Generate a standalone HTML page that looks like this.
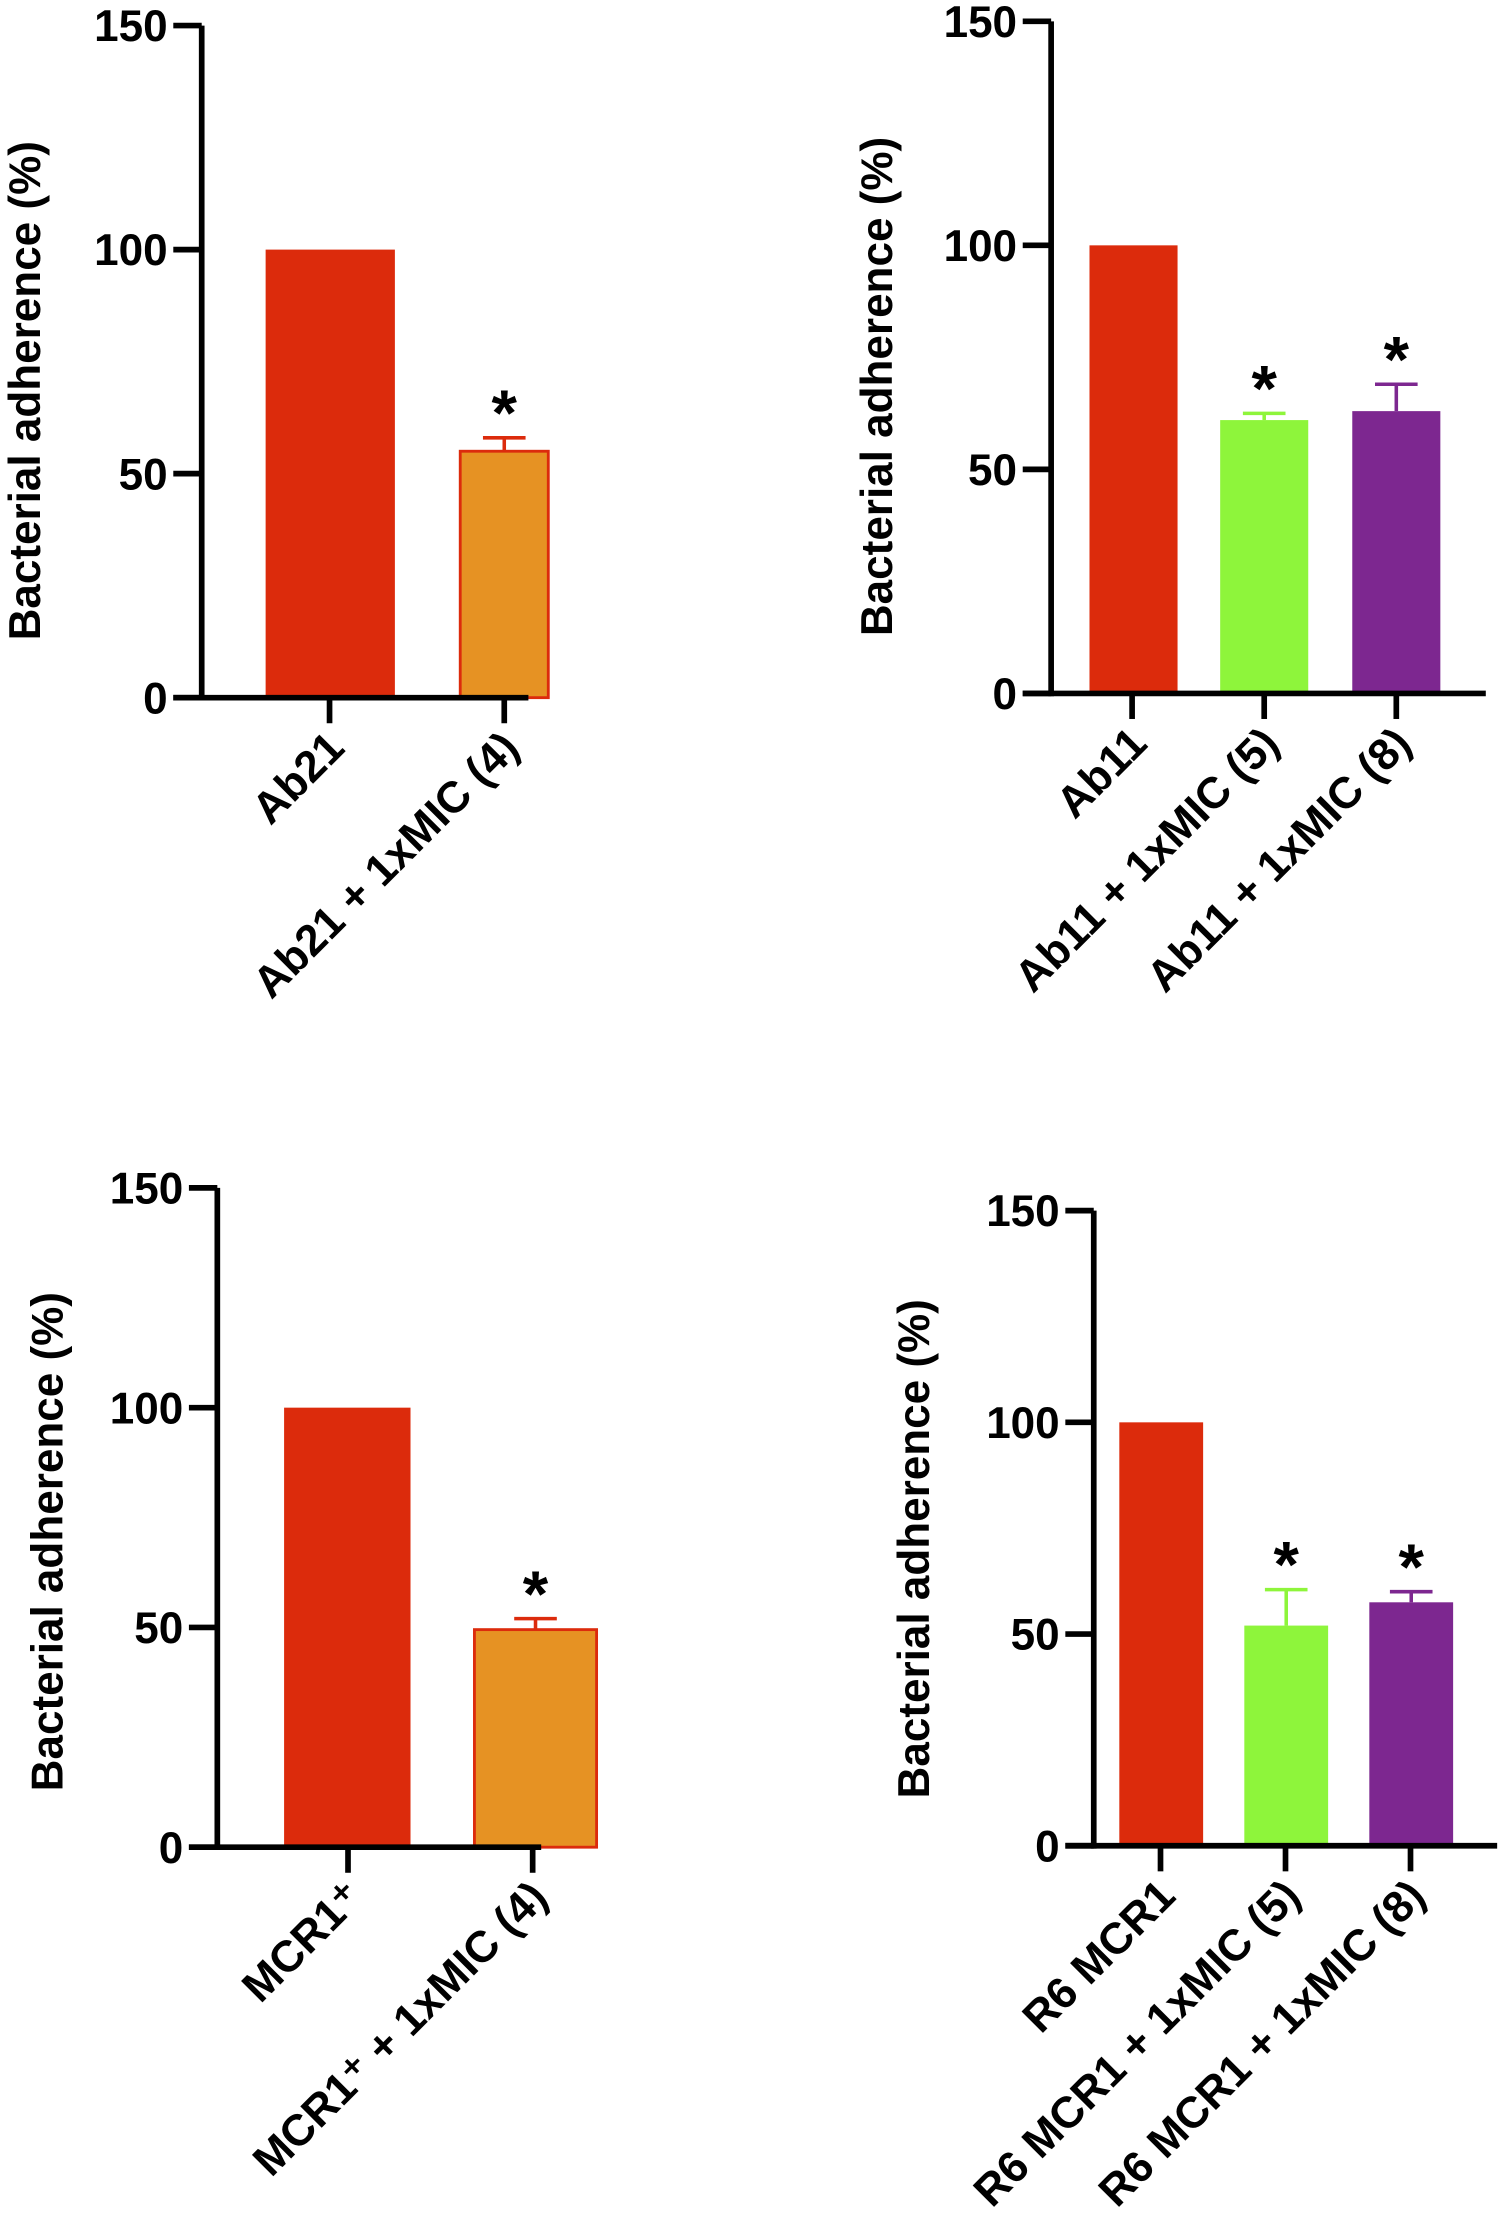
<!DOCTYPE html>
<html><head><meta charset="utf-8"><style>
html,body{margin:0;padding:0;background:#fff;}
svg{display:block;}
text{font-family:"Liberation Sans",Arial,sans-serif;font-weight:bold;fill:#000;}
</style></head><body>
<svg id="fig" width="1500" height="2228" viewBox="0 0 1056 1568" preserveAspectRatio="none"></svg>
<script>
const p1Categories = ["Ab21", "Ab21 + 1xMIC (4)"];
const p1Values = [100, 55];
const p1Errors = [0, 3];
const p2Categories = ["Ab11", "Ab11 + 1xMIC (5)", "Ab11 + 1xMIC (8)"];
const p2Values = [100, 61, 63];
const p2Errors = [0, 1.5, 6];
const p3Categories = ["MCR1\u207A", "MCR1\u207A + 1xMIC (4)"];
const p3Values = [100, 49.5];
const p3Errors = [0, 2.5];
const p4Categories = ["R6 MCR1", "R6 MCR1 + 1xMIC (5)", "R6 MCR1 + 1xMIC (8)"];
const p4Values = [100, 52, 57.5];
const p4Errors = [0, 8.5, 2.5];
const p1Stars = [false, true];
const p2Stars = [false, true, true];
const p3Stars = [false, true];
const p4Stars = [false, true, true];
const yTicks = [0, 50, 100, 150];

const NS = "http://www.w3.org/2000/svg";
const svg = document.getElementById("fig");
function mk(tag, attrs, parent) {
  const e = document.createElementNS(NS, tag);
  for (const k in attrs) e.setAttribute(k, attrs[k]);
  (parent || svg).appendChild(e);
  return e;
}
const RED = "#dc2b0c", ORANGE = "#e69223", GREEN = "#8ef53b", PURPLE = "#7d2790";

function panel(cfg, cats, vals, errs, stars, idx) {
  const g = mk("g", {});
  
  
  const y = v => cfg.y0 + (cfg.y150 - cfg.y0) * v / 150;
  const x = i => cfg.xs[i];
  cats.forEach((c, i) => {
    const bw = cfg.bws[i];
    const left = cfg.barX[i];
    const isOrange = cfg.colors[i] === ORANGE;
    const r = mk("rect", {x: left + (isOrange ? 1 : 0), y: y(vals[i]), width: bw - (isOrange ? 2 : 0), height: y(0) - y(vals[i]),
      fill: cfg.colors[i], stroke: isOrange ? RED : "none", "stroke-width": isOrange ? 2 : 0}, g);
    
    
    const cx = left + bw / 2;
    if (errs[i] > 0) {
      const ec = isOrange ? RED : cfg.colors[i];
      const eg = mk("g", {stroke: ec, "stroke-width": 2.5, fill: "none"}, g);
      
      
      mk("line", {x1: cx, x2: cx, y1: y(vals[i]), y2: y(vals[i] + errs[i])}, eg);
      mk("line", {x1: cx - 15, x2: cx + 15, y1: y(vals[i] + errs[i]), y2: y(vals[i] + errs[i])}, eg);
    }
    if (stars[i]) {
      const s = mk("text", {x: cx, y: y(vals[i] + errs[i]) - 2, "font-size": 46, "text-anchor": "middle"}, g);
      s.textContent = "*";
      
      
    }
    mk("line", {x1: x(i), x2: x(i), y1: y(0), y2: y(0) + 18, stroke: "#000", "stroke-width": 4}, g);
    const t = mk("text", {x: 0, y: 0, "font-size": 31, "text-anchor": "end",
      transform: `translate(${x(i) + 12},${y(0) + 37}) rotate(-45)`}, g);
    t.textContent = c;
    
    
  });
  const ax = mk("g", {stroke: "#000", "stroke-width": 4, fill: "none"}, g);
  
  
  mk("line", {x1: cfg.ax, x2: cfg.ax, y1: y(150), y2: y(0) + 2}, ax);
  mk("line", {x1: cfg.ax - 20, x2: cfg.xEnd, y1: y(0), y2: y(0)}, ax);
  yTicks.forEach(v => {
    mk("line", {x1: cfg.ax - 20, x2: cfg.ax, y1: y(v), y2: y(v)}, ax);
    const t = mk("text", {x: cfg.ax - 24, y: y(v) + 11, "font-size": 31, "text-anchor": "end"}, g);
    t.textContent = v;
    
    
  });
  const yt = mk("text", {x: 0, y: 0, "font-size": 31, "text-anchor": "middle",
    transform: `translate(${cfg.titleX},${cfg.titleY}) rotate(-90)`}, g);
  yt.textContent = "Bacterial adherence (%)";
  
  
}

panel({ax: 142, y0: 491, y150: 18, xs: [232, 355], barX: [187, 323], bws: [91, 64], xEnd: 372, titleX: 28, titleY: 275, colors: [RED, ORANGE]},
  p1Categories, p1Values, p1Errors, p1Stars, 1);
panel({ax: 740, y0: 488, y150: 15, xs: [797, 890, 983], barX: [767, 859, 952], bws: [62, 62, 62], xEnd: 1046, titleX: 628, titleY: 272, colors: [RED, GREEN, PURPLE]},
  p2Categories, p2Values, p2Errors, p2Stars, 2);
panel({ax: 153, y0: 1300, y150: 836, xs: [245, 375], barX: [200, 333], bws: [89, 88], xEnd: 381, titleX: 44, titleY: 1085, colors: [RED, ORANGE]},
  p3Categories, p3Values, p3Errors, p3Stars, 3);
panel({ax: 770, y0: 1299, y150: 852, xs: [817, 905, 993], barX: [788, 876, 964], bws: [59, 59, 59], xEnd: 1054, titleX: 654, titleY: 1090, colors: [RED, GREEN, PURPLE]},
  p4Categories, p4Values, p4Errors, p4Stars, 4);
</script>
</body></html>
